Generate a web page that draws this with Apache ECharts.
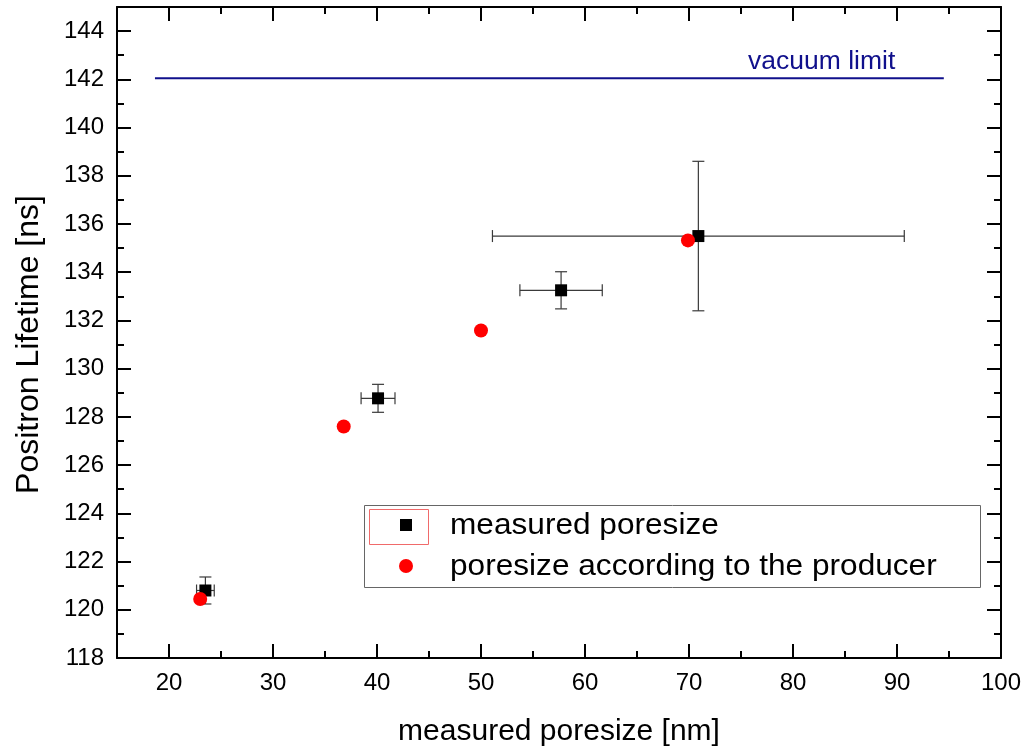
<!DOCTYPE html>
<html>
<head>
<meta charset="utf-8">
<script src="https://cdn.jsdelivr.net/npm/echarts@6/dist/echarts.min.js"></script>
<style>
html,body{margin:0;padding:0;background:#fff;}
#chart{width:1023px;height:750px;}
</style>
</head>
<body>
<div id="chart"></div>
<script>
// ---- data ----
var measX    = [23.5, 40.1, 57.7, 70.9];
var measY    = [120.8, 128.77, 133.25, 135.5];
var measXErr = [0.85, 1.63, 3.96, 19.8];
var measYErr = [0.56, 0.58, 0.77, 3.1];
var prodX    = [23.0, 36.8, 50.0, 69.9];
var prodY    = [120.45, 127.6, 131.58, 135.32];
var vacuumX  = [18.65, 94.5];
var vacuumY  = 142.05;
var xMajor = [20, 30, 40, 50, 60, 70, 80, 90, 100];
var xMinor = [25, 35, 45, 55, 65, 75, 85, 95];
var yMajor = [118, 120, 122, 124, 126, 128, 130, 132, 134, 136, 138, 140, 142, 144];
var yMinor = [119, 121, 123, 125, 127, 129, 131, 133, 135, 137, 139, 141, 143];
var xName = 'measured poresize [nm]';
var yName = 'Positron Lifetime [ns]';
var legendNames = ['measured poresize', 'poresize according to the producer'];
var vacuumLabel = 'vacuum limit';

var FONT = '"Liberation Sans", Arial, sans-serif';
var chart = echarts.init(document.getElementById('chart'), null, {renderer: 'canvas'});

function majorAxis(pos, labels, vals, extra) {
  var a = {
    type: 'value', position: pos,
    axisLine: {show: true, onZero: false, lineStyle: {color: '#000', width: 2}},
    axisTick: {show: true, inside: true, length: 14, customValues: vals, lineStyle: {color: '#000', width: 2}},
    axisLabel: labels ? {show: true, customValues: vals, color: '#000', fontSize: 24, fontFamily: FONT, margin: 13} : {show: false},
    splitLine: {show: false}
  };
  for (var k in extra) a[k] = extra[k];
  return a;
}
function minorAxis(pos, vals, extra) {
  var a = {
    type: 'value', position: pos,
    axisLine: {show: false, onZero: false},
    axisTick: {show: true, inside: true, length: 7, customValues: vals, lineStyle: {color: '#000', width: 2}},
    axisLabel: {show: false},
    splitLine: {show: false}
  };
  for (var k in extra) a[k] = extra[k];
  return a;
}
var xr = {min: 15, max: 100};
var yr = {min: 118, max: 145};

var errData = measX.map(function (x, i) { return [x, measY[i], measXErr[i], measYErr[i]]; });
var measData = measX.map(function (x, i) { return [x, measY[i]]; });
var prodData = prodX.map(function (x, i) { return [x, prodY[i]]; });

var option = {
  backgroundColor: '#fff',
  animation: false,
  grid: {left: 117, right: 22, top: 7, bottom: 92, containLabel: false, outerBoundsMode: 'none'},
  xAxis: [
    majorAxis('bottom', true, xMajor, Object.assign({}, xr, {
      name: xName, nameLocation: 'middle', nameGap: 59,
      nameTextStyle: {color: '#000', fontSize: 30, fontFamily: FONT}
    })),
    minorAxis('bottom', xMinor, xr),
    majorAxis('top', false, xMajor, xr),
    minorAxis('top', xMinor, xr)
  ],
  yAxis: [
    majorAxis('left', true, yMajor, Object.assign({}, yr, {
      name: yName, nameLocation: 'middle', nameGap: 72, nameRotate: 90,
      nameTextStyle: {color: '#000', fontSize: 32, fontFamily: FONT, padding: [0, 24, 0, 0]}
    })),
    minorAxis('left', yMinor, yr),
    majorAxis('right', false, yMajor, yr),
    minorAxis('right', yMinor, yr)
  ],
  series: [
    {
      type: 'line', xAxisIndex: 0, yAxisIndex: 0,
      data: vacuumX.map(function (x) { return [x, vacuumY]; }),
      symbol: 'none', lineStyle: {color: '#10108c', width: 2}, z: 2, silent: true
    },
    {
      type: 'custom', xAxisIndex: 0, yAxisIndex: 0, data: errData, z: 3,
      renderItem: function (params, api) {
        var x = api.value(0), y = api.value(1), xe = api.value(2), ye = api.value(3);
        var c = api.coord([x, y]);
        var l = api.coord([x - xe, y]), r = api.coord([x + xe, y]);
        var t = api.coord([x, y + ye]), b = api.coord([x, y - ye]);
        var cap = 6;
        var st = {stroke: '#3a3a3a', lineWidth: 1.2};
        return {
          type: 'group',
          children: [
            {type: 'line', shape: {x1: l[0], y1: c[1], x2: r[0], y2: c[1]}, style: st},
            {type: 'line', shape: {x1: l[0], y1: c[1] - cap, x2: l[0], y2: c[1] + cap}, style: st},
            {type: 'line', shape: {x1: r[0], y1: c[1] - cap, x2: r[0], y2: c[1] + cap}, style: st},
            {type: 'line', shape: {x1: c[0], y1: t[1], x2: c[0], y2: b[1]}, style: st},
            {type: 'line', shape: {x1: c[0] - cap, y1: t[1], x2: c[0] + cap, y2: t[1]}, style: st},
            {type: 'line', shape: {x1: c[0] - cap, y1: b[1], x2: c[0] + cap, y2: b[1]}, style: st}
          ]
        };
      }
    },
    {
      name: legendNames[0], type: 'scatter', xAxisIndex: 0, yAxisIndex: 0,
      data: measData, symbol: 'rect', symbolSize: 12, itemStyle: {color: '#000', opacity: 1}, z: 4
    },
    {
      name: legendNames[1], type: 'scatter', xAxisIndex: 0, yAxisIndex: 0,
      data: prodData, symbol: 'circle', symbolSize: 14, itemStyle: {color: '#ff0000', opacity: 1}, z: 5
    }
  ],
  graphic: [
    {type: 'text', x: 748, y: 62, scaleX: 1.06, style: {text: vacuumLabel, fill: '#10108c', font: '25px ' + FONT, verticalAlign: 'middle', textVerticalAlign: 'middle'}, z: 10},
    {type: 'rect', shape: {x: 364.5, y: 505.5, width: 616, height: 82}, style: {fill: '#fff', stroke: '#666', lineWidth: 1}, z: 10},
    {type: 'rect', shape: {x: 369.5, y: 509.5, width: 59, height: 35}, style: {fill: 'none', stroke: '#f06a6a', lineWidth: 1}, z: 11},
    {type: 'rect', shape: {x: 400, y: 519, width: 12, height: 12}, style: {fill: '#000'}, z: 11},
    {type: 'circle', shape: {cx: 406, cy: 566, r: 7}, style: {fill: '#ff0000'}, z: 11},
    {type: 'text', x: 450, y: 526, scaleX: 1.09, style: {text: legendNames[0], fill: '#000', font: '29px ' + FONT, verticalAlign: 'middle', textVerticalAlign: 'middle'}, z: 11},
    {type: 'text', x: 450, y: 567, scaleX: 1.09, style: {text: legendNames[1], fill: '#000', font: '29px ' + FONT, verticalAlign: 'middle', textVerticalAlign: 'middle'}, z: 11}
  ]
};
chart.setOption(option);
</script>
</body>
</html>
